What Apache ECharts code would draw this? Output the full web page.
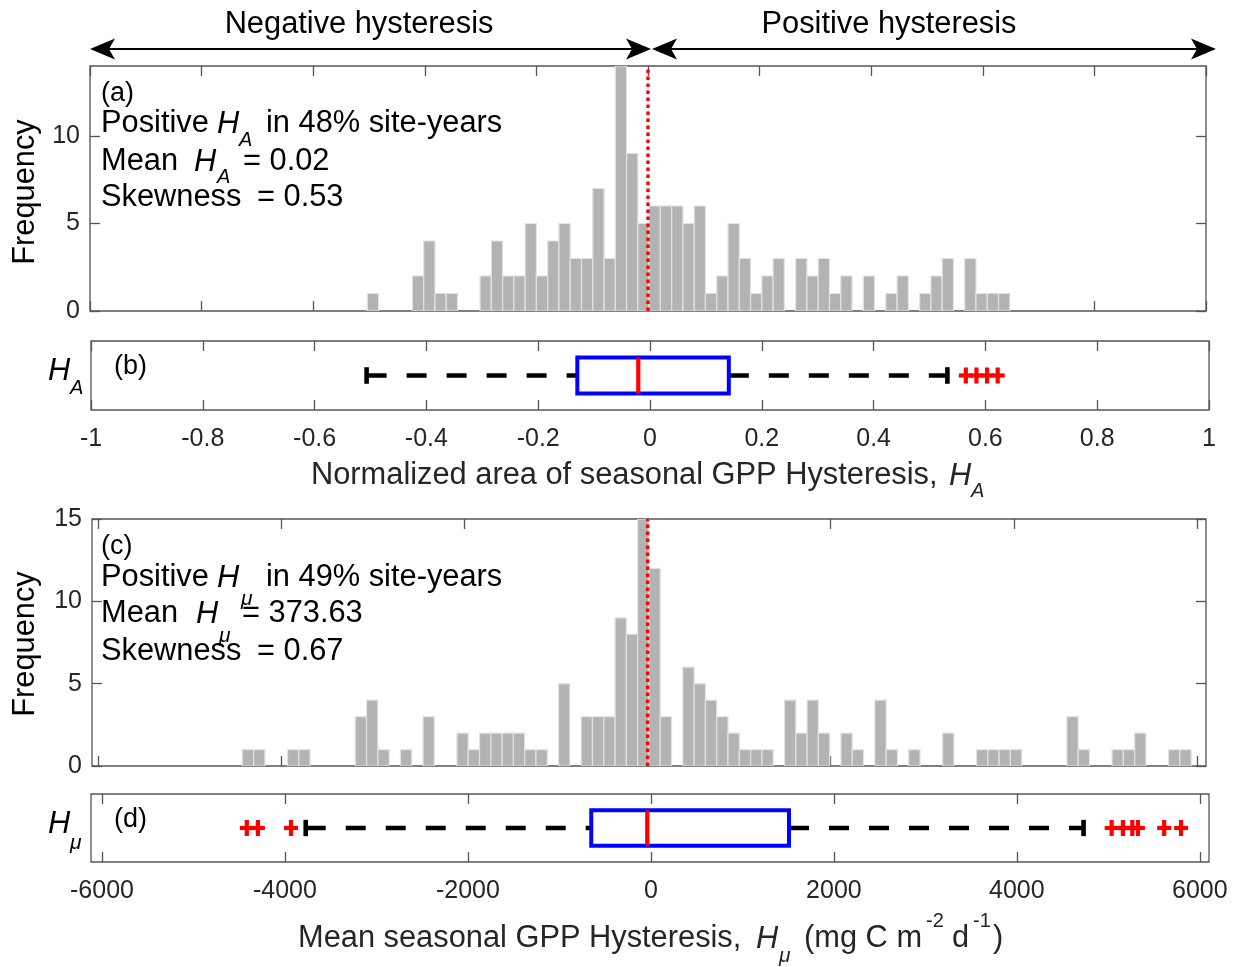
<!DOCTYPE html>
<html>
<head>
<meta charset="utf-8">
<script src="https://cdn.jsdelivr.net/npm/echarts@6/dist/echarts.min.js"></script>
<style>
  html, body { margin: 0; padding: 0; background: #ffffff; }
  #chart { width: 1236px; height: 967px; }
</style>
</head>
<body>
<div id="chart"></div>
<script>
// ---- Normalized hysteresis area H_A: histogram bins ----
const haBinStart = -0.503;
const haBinWidth = 0.0202;
const haCounts = [1, 0, 0, 0, 2, 4, 1, 1, 0, 0, 2, 4, 2, 2, 5, 2, 4, 5, 3, 3, 7, 3, 14, 9, 5, 6,
                  6, 6, 5, 6, 1, 2, 5, 3, 1, 2, 3, 0, 3, 2, 3, 1, 2, 0, 2, 0, 1, 2, 0, 1, 2, 3, 0, 3, 1, 1, 1];
// box plot: lower whisker, Q1, median, Q3, upper whisker
const haBox = [-0.507, -0.130, -0.021, 0.141, 0.532];
const haOutliers = [0.565, 0.584, 0.603, 0.622];
const haTicks = [-1, -0.8, -0.6, -0.4, -0.2, 0, 0.2, 0.4, 0.6, 0.8, 1];

// ---- Mean hysteresis H_mu: histogram bins ----
const hmuBinStart = -4428;
const hmuBinWidth = 123.4;
const hmuCounts = [1, 1, 0, 0, 1, 1, 0, 0, 0, 0, 3, 4, 1, 0, 1, 0, 3, 0, 0, 2, 1, 2, 2, 2, 2, 1, 1, 0, 5, 0,
                   3, 3, 3, 9, 8, 15, 12, 3, 0, 6, 5, 4, 3, 2, 1, 1, 1, 0, 4, 2, 4, 2, 0, 2, 1, 0, 4, 1, 0, 1,
                   0, 0, 2, 0, 0, 1, 1, 1, 1, 0, 0, 0, 0, 3, 1, 0, 0, 1, 1, 2, 0, 0, 1, 1];
const hmuBox = [-3773, -652, -40, 1509, 4729];
const hmuOutliers = [-4417, -4296, -3934, 5036, 5159, 5262, 5323, 5610, 5795];
const hmuTicks = [-6000, -4000, -2000, 0, 2000, 4000, 6000];

const freqTicksA = [0, 5, 10];
const freqTicksMu = [0, 5, 10, 15];
const zeroLine = 0;

const FONT = '"Liberation Sans", Helvetica, Arial, sans-serif';
const AXIS_COLOR = '#555555';
const LABEL_COLOR = '#262626';
const BIG = 30.8;   // main text size
const SUB = 20;     // sub/superscript size

function binData(start, width, counts) {
  return counts
    .map((c, i) => [start + i * width, start + (i + 1) * width, c])
    .filter(d => d[2] > 0);
}

function histRenderer(params, api) {
  const p0 = api.coord([api.value(0), api.value(2)]);
  const p1 = api.coord([api.value(1), 0]);
  return {
    type: 'rect',
    shape: { x: p0[0], y: p0[1], width: p1[0] - p0[0], height: p1[1] - p0[1] },
    style: { fill: '#b3b3b3', stroke: '#e2e2e2', lineWidth: 1.2 }
  };
}

function boxRenderer(params, api) {
  const X = v => api.coord([v, 0.5])[0];
  const Y = v => api.coord([0, v])[1];
  const lo = api.value(0), q1 = api.value(1), md = api.value(2), q3 = api.value(3), hi = api.value(4);
  const yc = Y(0.5), yt = Y(0.76), yb = Y(0.24), ct = Y(0.62), cb = Y(0.38);
  const dash = { stroke: '#000000', lineWidth: 4.6, lineDash: [20, 20] };
  return {
    type: 'group',
    children: [
      { type: 'line', shape: { x1: X(lo), y1: yc, x2: X(q1), y2: yc }, style: dash },
      { type: 'line', shape: { x1: X(q3), y1: yc, x2: X(hi), y2: yc }, style: dash },
      { type: 'line', shape: { x1: X(lo), y1: ct, x2: X(lo), y2: cb }, style: { stroke: '#000000', lineWidth: 4.6 } },
      { type: 'line', shape: { x1: X(hi), y1: ct, x2: X(hi), y2: cb }, style: { stroke: '#000000', lineWidth: 4.6 } },
      { type: 'rect', shape: { x: X(q1), y: yt, width: X(q3) - X(q1), height: yb - yt },
        style: { fill: 'none', stroke: '#0000ff', lineWidth: 4 } },
      { type: 'line', shape: { x1: X(md), y1: yt, x2: X(md), y2: yb }, style: { stroke: '#ff0000', lineWidth: 4.2 } }
    ]
  };
}

function plusRenderer(params, api) {
  const p = api.coord([api.value(0), 0.5]);
  const st = { stroke: '#ff0000', lineWidth: 4.2 };
  return {
    type: 'group',
    children: [
      { type: 'line', shape: { x1: p[0] - 7, y1: p[1], x2: p[0] + 7, y2: p[1] }, style: st },
      { type: 'line', shape: { x1: p[0], y1: p[1] - 8, x2: p[0], y2: p[1] + 8 }, style: st }
    ]
  };
}

function xAxisDef(gridIndex, position, min, max, ticks, showLabels) {
  return {
    type: 'value', gridIndex, position, min, max,
    axisLine: { show: false, onZero: false },
    splitLine: { show: false },
    axisTick: { show: true, inside: true, length: 10, customValues: ticks,
                lineStyle: { color: AXIS_COLOR, width: 1.3 } },
    axisLabel: { show: showLabels, customValues: ticks, margin: 17,
                 formatter: v => String(v),
                 color: LABEL_COLOR, fontSize: 25, fontFamily: FONT }
  };
}

function yAxisDef(gridIndex, position, min, max, ticks, showLabels) {
  return {
    type: 'value', gridIndex, position, min, max,
    axisLine: { show: false, onZero: false },
    splitLine: { show: false },
    axisTick: { show: !!ticks, inside: true, length: 10, customValues: ticks || [],
                lineStyle: { color: AXIS_COLOR, width: 1.3 } },
    axisLabel: { show: showLabels, customValues: ticks || [], margin: 10,
                 formatter: v => String(v),
                 color: LABEL_COLOR, fontSize: 25, fontFamily: FONT }
  };
}

function gridDef(left, top, width, height) {
  return { left, top, width, height, show: true, borderColor: AXIS_COLOR, borderWidth: 1.3,
           backgroundColor: 'transparent', containLabel: false, outerBoundsMode: 'none' };
}

// text helper for annotations (y is the visual middle of the glyphs)
function txt(x, y, s, size, opts) {
  opts = opts || {};
  return {
    type: 'text', x, y: y + (size > 24 ? 2 : 1), rotation: opts.rotation || 0, z: 100,
    style: {
      text: s,
      font: (opts.italic ? 'italic ' : '') + size + 'px ' + FONT,
      fill: opts.color || '#000000',
      textAlign: opts.align || 'left', align: opts.align || 'left',
      textVerticalAlign: 'middle', verticalAlign: 'middle'
    }
  };
}

function arrowHead(tipX, y, dir) {
  const L = 25, H = 10.5, N = 6;
  return {
    type: 'polygon', z: 100,
    shape: { points: [[tipX, y], [tipX + dir * L, y - H], [tipX + dir * (L - N), y], [tipX + dir * L, y + H]] },
    style: { fill: '#000000' }
  };
}

const AY = 49;
const graphics = [
  { type: 'line', z: 100, shape: { x1: 95, y1: AY, x2: 646, y2: AY }, style: { stroke: '#000', lineWidth: 2 } },
  { type: 'line', z: 100, shape: { x1: 657, y1: AY, x2: 1211, y2: AY }, style: { stroke: '#000', lineWidth: 2 } },
  arrowHead(90, AY, 1), arrowHead(651, AY, -1), arrowHead(652, AY, 1), arrowHead(1216, AY, -1),
  txt(359, 23, 'Negative hysteresis', BIG, { align: 'center' }),
  txt(889, 23, 'Positive hysteresis', BIG, { align: 'center' }),

  // panel (a) annotations
  txt(101, 92, '(a)', 27),
  txt(101, 122, 'Positive', BIG),
  txt(217, 122, 'H', BIG, { italic: true }),
  txt(239, 139, 'A', SUB, { italic: true }),
  txt(266, 122, 'in 48% site-years', BIG),
  txt(101, 160, 'Mean', BIG),
  txt(194, 160, 'H', BIG, { italic: true }),
  txt(217, 176, 'A', SUB, { italic: true }),
  txt(243, 160, '= 0.02', BIG),
  txt(101, 196, 'Skewness', BIG),
  txt(257, 196, '= 0.53', BIG),
  txt(26, 190, 'Frequency', BIG, { align: 'center', rotation: Math.PI / 2 }),

  // panel (b)
  txt(48, 369, 'H', BIG, { italic: true }),
  txt(70, 387, 'A', SUB, { italic: true }),
  txt(114, 365, '(b)', 27),
  txt(311, 474, 'Normalized area of seasonal GPP Hysteresis,', BIG, { color: LABEL_COLOR }),
  txt(949, 474, 'H', BIG, { italic: true, color: LABEL_COLOR }),
  txt(971, 490, 'A', SUB, { italic: true, color: LABEL_COLOR }),

  // panel (c)
  txt(101, 545, '(c)', 27),
  txt(101, 576, 'Positive', BIG),
  txt(217, 576, 'H', BIG, { italic: true }),
  txt(241, 598, 'μ', SUB + 1, { italic: true }),
  txt(266, 576, 'in 49% site-years', BIG),
  txt(101, 612, 'Mean', BIG),
  txt(196, 612, 'H', BIG, { italic: true }),
  txt(219, 635, 'μ', SUB + 1, { italic: true }),
  txt(242, 612, '= 373.63', BIG),
  txt(101, 650, 'Skewness', BIG),
  txt(257, 650, '= 0.67', BIG),
  txt(26, 642, 'Frequency', BIG, { align: 'center', rotation: Math.PI / 2 }),

  // panel (d)
  txt(48, 822, 'H', BIG, { italic: true }),
  txt(70, 842, 'μ', SUB + 1, { italic: true }),
  txt(114, 818, '(d)', 27),
  txt(298, 937, 'Mean seasonal GPP Hysteresis,', BIG, { color: LABEL_COLOR }),
  txt(756, 937, 'H', BIG, { italic: true, color: LABEL_COLOR }),
  txt(779, 955, 'μ', SUB + 1, { italic: true, color: LABEL_COLOR }),
  txt(804, 937, '(mg C m', BIG, { color: LABEL_COLOR }),
  txt(926, 920, '-2', SUB, { color: LABEL_COLOR }),
  txt(952, 937, 'd', BIG, { color: LABEL_COLOR }),
  txt(973, 920, '-1', SUB, { color: LABEL_COLOR }),
  txt(993, 937, ')', BIG, { color: LABEL_COLOR })
];

const zeroStyle = { color: '#ff0000', width: 3.4, type: [3.5, 3.5] };

const option = {
  animation: false,
  backgroundColor: '#ffffff',
  grid: [
    gridDef(90, 66, 1116, 245),
    gridDef(91, 341, 1118, 69),
    gridDef(92, 519, 1114, 247),
    gridDef(91, 794, 1118, 68)
  ],
  xAxis: [
    xAxisDef(0, 'bottom', -1, 1, haTicks, false),
    xAxisDef(0, 'top', -1, 1, haTicks, false),
    xAxisDef(1, 'bottom', -1, 1, haTicks, true),
    xAxisDef(1, 'top', -1, 1, haTicks, false),
    xAxisDef(2, 'bottom', -6070, 6100, hmuTicks, false),
    xAxisDef(2, 'top', -6070, 6100, hmuTicks, false),
    xAxisDef(3, 'bottom', -6120, 6100, hmuTicks, true),
    xAxisDef(3, 'top', -6120, 6100, hmuTicks, false)
  ],
  yAxis: [
    yAxisDef(0, 'left', 0, 14, freqTicksA, true),
    yAxisDef(0, 'right', 0, 14, freqTicksA, false),
    yAxisDef(1, 'left', 0, 1, null, false),
    yAxisDef(2, 'left', 0, 15, freqTicksMu, true),
    yAxisDef(2, 'right', 0, 15, freqTicksMu, false),
    yAxisDef(3, 'left', 0, 1, null, false)
  ],
  series: [
    { type: 'custom', xAxisIndex: 0, yAxisIndex: 0, clip: true, renderItem: histRenderer,
      encode: { x: [0, 1], y: 2 }, data: binData(haBinStart, haBinWidth, haCounts) },
    { type: 'line', xAxisIndex: 0, yAxisIndex: 0, symbol: 'none', z: 5, lineStyle: zeroStyle,
      data: [[zeroLine, 0], [zeroLine, 14]] },
    { type: 'custom', xAxisIndex: 2, yAxisIndex: 2, renderItem: boxRenderer,
      encode: { x: [0, 1, 2, 3, 4] }, data: [haBox] },
    { type: 'custom', xAxisIndex: 2, yAxisIndex: 2, renderItem: plusRenderer, z: 6,
      encode: { x: 0 }, data: haOutliers.map(v => [v]) },

    { type: 'custom', xAxisIndex: 4, yAxisIndex: 3, clip: true, renderItem: histRenderer,
      encode: { x: [0, 1], y: 2 }, data: binData(hmuBinStart, hmuBinWidth, hmuCounts) },
    { type: 'line', xAxisIndex: 4, yAxisIndex: 3, symbol: 'none', z: 5, lineStyle: zeroStyle,
      data: [[zeroLine, 0], [zeroLine, 15]] },
    { type: 'custom', xAxisIndex: 6, yAxisIndex: 5, renderItem: boxRenderer,
      encode: { x: [0, 1, 2, 3, 4] }, data: [hmuBox] },
    { type: 'custom', xAxisIndex: 6, yAxisIndex: 5, renderItem: plusRenderer, z: 6,
      encode: { x: 0 }, data: hmuOutliers.map(v => [v]) }
  ],
  graphic: { elements: graphics }
};

const chart = echarts.init(document.getElementById('chart'), null, { renderer: 'canvas' });
chart.setOption(option);
</script>
</body>
</html>
